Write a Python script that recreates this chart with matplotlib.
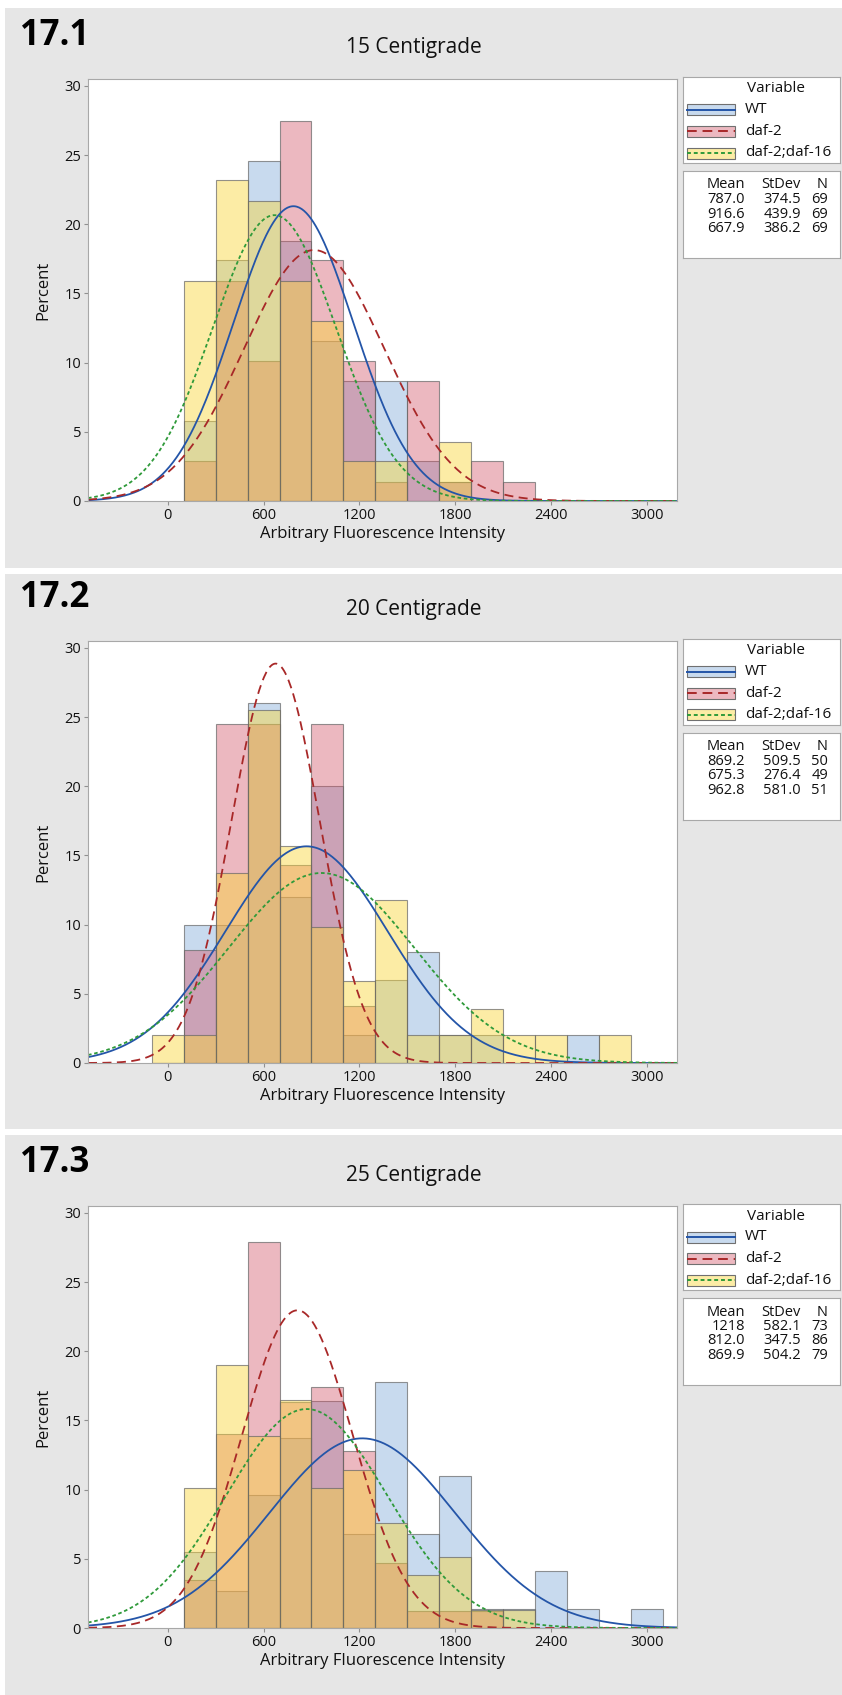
import numpy as np
import matplotlib.pyplot as plt
from matplotlib.patches import Rectangle

W, H = 842, 1695
plt.rcParams['font.family'] = ['Open Sans', 'DejaVu Sans']

series = ["WT", "daf-2", "daf-2;daf-16"]
bin_width = 200

# percent per bin
centers_15 = [200, 400, 600, 800, 1000, 1200, 1400, 1600, 1800, 2000, 2200]
wt_15 = [5.8, 17.4, 24.6, 18.8, 11.6, 8.7, 8.7, 2.9, 1.4, 0, 0]
daf2_15 = [2.9, 15.9, 10.1, 27.5, 17.4, 10.1, 1.4, 8.7, 1.4, 2.9, 1.4]
daf16_15 = [15.9, 23.2, 21.7, 15.9, 13.0, 2.9, 2.9, 0, 4.3, 0, 0]

centers_20 = [0, 200, 400, 600, 800, 1000, 1200, 1400, 1600, 1800, 2000, 2200, 2400, 2600, 2800]
wt_20 = [0, 10, 10, 26, 12, 20, 2, 6, 8, 2, 2, 0, 0, 2, 0]
daf2_20 = [0, 8.2, 24.5, 24.5, 14.3, 24.5, 4.1, 0, 0, 0, 0, 0, 0, 0, 0]
daf16_20 = [2.0, 2.0, 13.7, 25.5, 15.7, 9.8, 5.9, 11.8, 2.0, 2.0, 3.9, 2.0, 2.0, 0, 2.0]

centers_25 = [200, 400, 600, 800, 1000, 1200, 1400, 1600, 1800, 2000, 2200, 2400, 2600, 2800, 3000]
wt_25 = [5.5, 2.7, 9.6, 13.7, 16.4, 6.8, 17.8, 6.8, 11.0, 1.4, 1.4, 4.1, 1.4, 0, 1.4]
daf2_25 = [3.5, 14.0, 27.9, 16.3, 17.4, 12.8, 4.7, 1.2, 1.2, 1.2, 0, 0, 0, 0, 0]
daf16_25 = [10.1, 19.0, 13.9, 16.5, 10.1, 11.4, 7.6, 3.8, 5.1, 1.3, 1.3, 0, 0, 0, 0]

# fitted normal parameters (legend tables)
mean_15 = [787.0, 916.6, 667.9]
sd_15 = [374.5, 439.9, 386.2]
n_15 = [69, 69, 69]
mean_20 = [869.2, 675.3, 962.8]
sd_20 = [509.5, 276.4, 581.0]
n_20 = [50, 49, 51]
mean_25 = [1218, 812.0, 869.9]
sd_25 = [582.1, 347.5, 504.2]
n_25 = [73, 86, 79]

panels = [
    ("17.1", "15 Centigrade", centers_15, [wt_15, daf2_15, daf16_15], mean_15, sd_15, n_15, 79),
    ("17.2", "20 Centigrade", centers_20, [wt_20, daf2_20, daf16_20], mean_20, sd_20, n_20, 641),
    ("17.3", "25 Centigrade", centers_25, [wt_25, daf2_25, daf16_25], mean_25, sd_25, n_25, 1206),
]

fills = [(0.39, 0.59, 0.82, 0.35), (0.82, 0.31, 0.39, 0.40), (0.98, 0.84, 0.22, 0.45)]
line_colors = ["#2455a8", "#a82828", "#2f9a3a"]
line_dashes = [None, (5, 3), (2, 1.5)]
edge = (0.4, 0.4, 0.4, 0.7)
xlim = (-500, 3190)


def fx(px):
    return px / W


def fy(py):
    return 1 - py / H


fig = plt.figure(figsize=(W / 100, H / 100), dpi=100, facecolor="white")

# gray panel backgrounds
for top, bot in [(8, 568), (574, 1129), (1135, 1695)]:
    fig.add_artist(Rectangle((fx(5), fy(bot)), fx(W - 5), (bot - top) / H,
                             transform=fig.transFigure, facecolor="#e6e6e6",
                             edgecolor="none", zorder=0))

ax_left, ax_right = 88, 677
ax_h = 422
txt = "#111111"

for label, title, centers, values, means, sds, ns, T in panels:
    ax = fig.add_axes([fx(ax_left), fy(T + ax_h), fx(ax_right - ax_left), ax_h / H])
    ax.set_facecolor("white")
    for vals, fc in zip(values, fills):
        ax.bar(centers, vals, width=bin_width, facecolor=fc, edgecolor=edge, linewidth=0.8)
    xs = np.linspace(xlim[0], xlim[1], 500)
    for m, s, c, d in zip(means, sds, line_colors, line_dashes):
        ys = 100 * bin_width * np.exp(-0.5 * ((xs - m) / s) ** 2) / (s * np.sqrt(2 * np.pi))
        ln, = ax.plot(xs, ys, color=c, lw=1.3)
        if d:
            ln.set_dashes(d)
    ax.set_xlim(*xlim)
    ax.set_ylim(0, 30.5)
    ax.set_xticks([0, 600, 1200, 1800, 2400, 3000])
    ax.set_yticks([0, 5, 10, 15, 20, 25, 30])
    ax.tick_params(labelsize=10.5, length=3, color="#909090", pad=2, labelcolor=txt)
    for sp in ax.spines.values():
        sp.set_color("#a8a8a8")
    ax.set_xlabel("Arbitrary Fluorescence Intensity", fontsize=12, labelpad=2, color=txt)
    ax.set_ylabel("Percent", fontsize=12, labelpad=9, color=txt)

    fig.text(fx(20), fy(T - 43), label, fontsize=25, fontweight="bold", va="center", ha="left")
    fig.text(fx(414), fy(T - 31), title, fontsize=15, va="center", ha="center", color=txt)

    # legend box
    lg = fig.add_axes([fx(683), fy(T - 2 + 86), fx(157), 86 / H])
    lg.set_xlim(0, 157)
    lg.set_ylim(86, 0)
    lg.set_xticks([])
    lg.set_yticks([])
    for sp in lg.spines.values():
        sp.set_color("#a8a8a8")
    lg.text(93, 12, "Variable", fontsize=11, ha="center", va="center", color=txt)
    for i, (name, fc, c, d) in enumerate(zip(series, fills, line_colors, line_dashes)):
        yy = 33 + 21.5 * i
        lg.add_patch(Rectangle((4, yy - 5.5), 48, 11, facecolor=fc, edgecolor="#707070", lw=0.8))
        ln, = lg.plot([4, 52], [yy, yy], color=c, lw=1.4)
        if d:
            ln.set_dashes(d)
        lg.text(62, yy, name, fontsize=11, ha="left", va="center", color=txt)

    # stats box
    st = fig.add_axes([fx(683), fy(T + 92 + 87), fx(157), 87 / H])
    st.set_xlim(0, 157)
    st.set_ylim(87, 0)
    st.set_xticks([])
    st.set_yticks([])
    for sp in st.spines.values():
        sp.set_color("#a8a8a8")
    rows = [("Mean", "StDev", "N")]
    for m, s, n in zip(means, sds, ns):
        ms = f"{m:.0f}" if m >= 1000 else f"{m:.1f}"
        rows.append((ms, f"{s:.1f}", str(n)))
    for j, (a, b, c) in enumerate(rows):
        yy = 14 + 14.5 * j
        st.text(62, yy, a, fontsize=10.5, ha="right", va="center", color=txt)
        st.text(118, yy, b, fontsize=10.5, ha="right", va="center", color=txt)
        st.text(145, yy, c, fontsize=10.5, ha="right", va="center", color=txt)

fig.savefig("out.png", dpi=100, facecolor=fig.get_facecolor())
